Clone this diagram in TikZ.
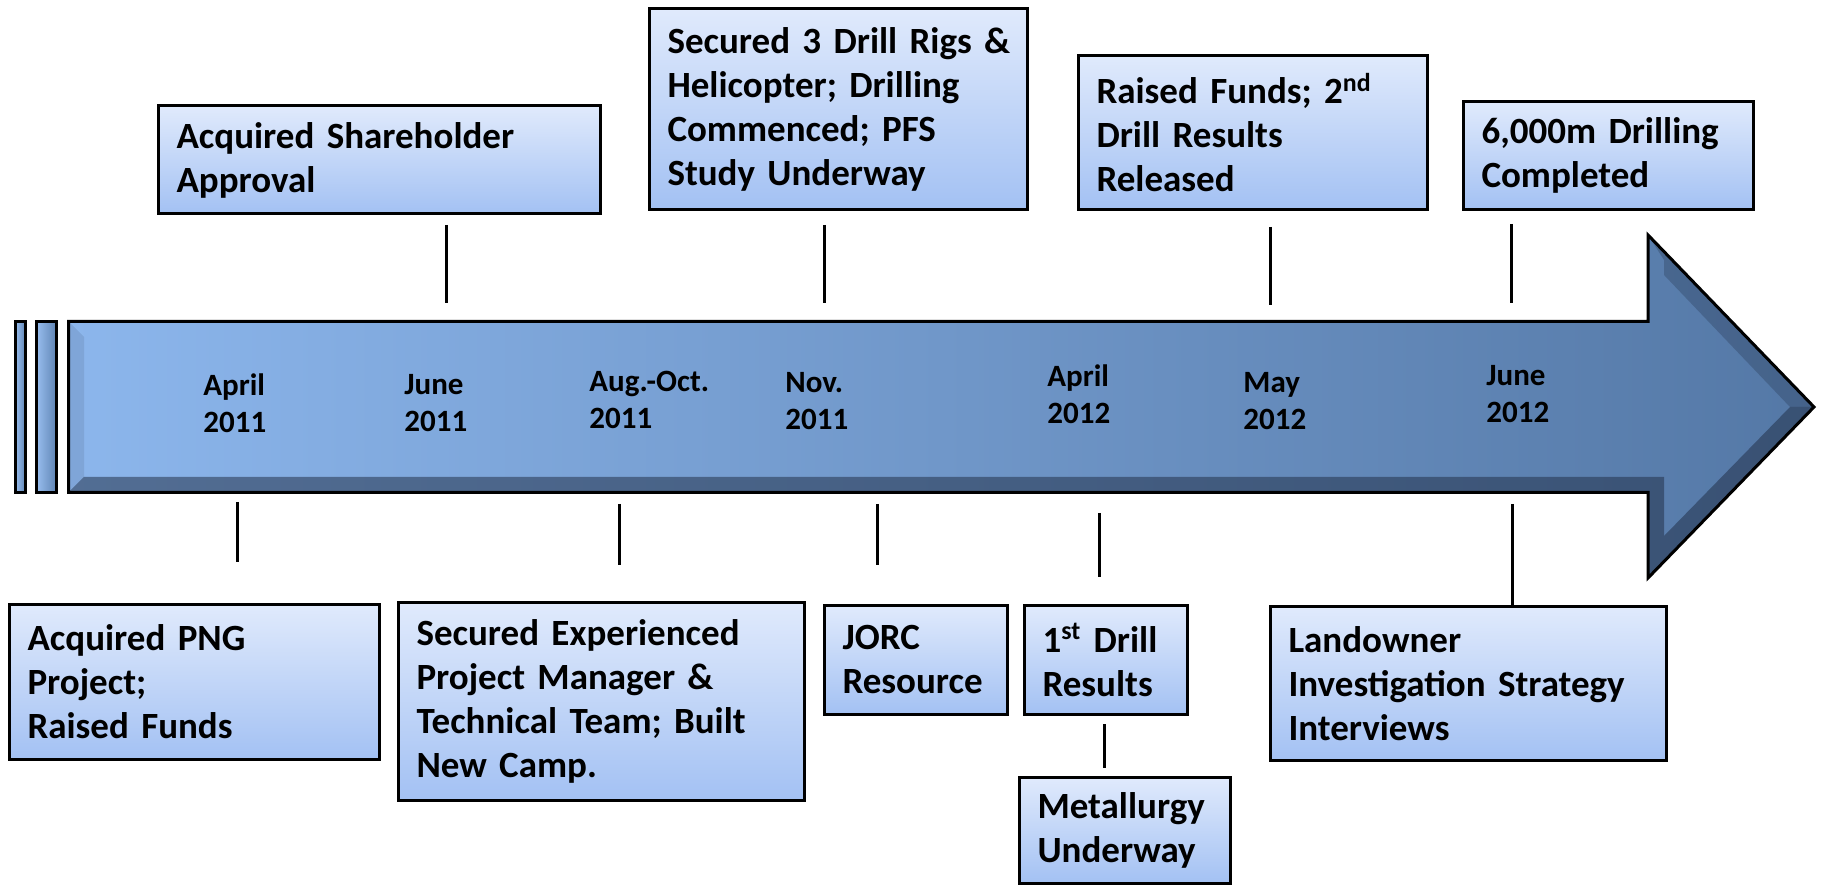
\documentclass[tikz,border=0pt]{standalone}
\usepackage{fontspec}
\newfontfamily\carl{Carlito}
\definecolor{boxTop}{RGB}{224,234,252}
\definecolor{boxBot}{RGB}{163,193,243}
\definecolor{arrL}{RGB}{140,182,236}
\definecolor{arrR}{RGB}{84,120,166}
\definecolor{bevel}{RGB}{35,50,75}
\newcommand\evfont{\carl\bfseries\fontsize{18.5}{22}\selectfont}
\newcommand\dtfont{\carl\bfseries\fontsize{15.5}{18.5}\selectfont}
\tikzset{
  evbox/.style={draw=black, line width=1.5pt, top color=boxTop, bottom color=boxBot,
    align=left, inner xsep=9pt, inner ysep=0pt, font=\evfont},
  datelbl/.style={align=left, inner sep=0pt, font=\dtfont, anchor=west},
  tickline/.style={line width=1.5pt},
  arrowline/.style={draw=black, line width=1.5pt, line join=miter},
}
\begin{document}
\begin{tikzpicture}[x=0.5pt,y=-0.5pt]
\useasboundingbox (0,0) rectangle (1825,886);

% --- timeline arrow ---
\shade[left color=arrL, right color=arrR]
  (68.5,321.5) -- (1648,321.5) -- (1648,235) -- (1814,407) -- (1648,578) -- (1648,492.5) -- (68.5,492.5) -- cycle;
% bevels
\fill[bevel, opacity=0.55]
  (68.5,492.5) -- (1648,492.5) -- (1648,578) -- (1814,407) -- (1790,407) -- (1664,536) -- (1664,477) -- (84,477) -- cycle;
\fill[bevel, opacity=0.3]
  (1648,235) -- (1814,407) -- (1790,407) -- (1664,275) -- (1664,260) -- cycle;
\fill[bevel, opacity=0.12]
  (68.5,321.5) -- (84,337) -- (84,477) -- (68.5,492.5) -- cycle;
\draw[arrowline]
  (68.5,321.5) -- (1648,321.5) -- (1648,235) -- (1814,407) -- (1648,578) -- (1648,492.5) -- (68.5,492.5) -- cycle;
% left bars
\shadedraw[arrowline, left color=arrL!90!white, right color=arrR!80!arrL] (15.5,321.5) rectangle (25.5,492.5);
\shadedraw[arrowline, left color=arrL!90!white, right color=arrR!80!arrL] (36.5,321.5) rectangle (56.5,492.5);

% --- date labels ---
\node[datelbl] (dA11) at (203,403.5) {April\\2011};
\node[datelbl] (dJ11) at (404,403.5) {June\\2011};
\node[datelbl] (dAO11) at (589,399.5) {Aug.-Oct.\\2011};
\node[datelbl] (dN11) at (785,401.5) {Nov.\\2011};
\node[datelbl] (dA12) at (1047,394.5) {April\\2012};
\node[datelbl] (dM12) at (1243,401.5) {May\\2012};
\node[datelbl] (dJ12) at (1486,394.5) {June\\2012};

% --- upper event boxes ---
\node[evbox, text width=203pt, minimum height=54pt] (sh) at (379.5,160) {Acquired Shareholder\\Approval};
\node[evbox, text width=171pt, minimum height=100.5pt] (rigs) at (838.5,109) {\mbox{Secured 3 Drill Rigs \&}\\\mbox{Helicopter; Drilling}\\\mbox{Commenced; PFS}\\\mbox{Study Underway}};
\node[evbox, text width=156.5pt, minimum height=77pt] (raised) at (1253,132.5) {\mbox{Raised Funds; 2\textsuperscript{nd}}\\Drill Results\\Released};
\node[evbox, text width=127pt, minimum height=54pt] (dk) at (1608.5,155.5) {\mbox{6,000m Drilling}\\Completed};

% --- lower event boxes ---
\node[evbox, text width=167pt, minimum height=77.5pt] (png) at (194.5,682) {Acquired PNG\\Project;\\Raised Funds};
\node[evbox, text width=185pt, minimum height=99pt] (exp) at (601.5,701.5) {\mbox{Secured Experienced}\\\mbox{Project Manager \&}\\\mbox{Technical Team; Built}\\New Camp.};
\node[evbox, text width=73.5pt, minimum height=54.5pt] (jorc) at (916,660) {JORC\\\mbox{Resource}};
\node[evbox, text width=63.5pt, minimum height=54.5pt] (first) at (1106,660) {\mbox{1\textsuperscript{st} Drill}\\\mbox{Results}};
\node[evbox, text width=87.5pt, minimum height=53pt] (met) at (1125,830.5) {\mbox{Metallurgy}\\\mbox{Underway}};
\node[evbox, text width=180pt, minimum height=77pt] (land) at (1468.5,683.5) {Landowner\\\mbox{Investigation Strategy}\\Interviews};

% --- tick connectors ---
\coordinate (t1a) at (446,225); \coordinate (t1b) at (446,303);
\coordinate (t2a) at (824,225); \coordinate (t2b) at (824,303);
\coordinate (t3a) at (1270,227); \coordinate (t3b) at (1270,305);
\coordinate (t4a) at (1511,224); \coordinate (t4b) at (1511,303);
\draw[tickline] (t1a) -- (t1b);
\draw[tickline] (t2a) -- (t2b);
\draw[tickline] (t3a) -- (t3b);
\draw[tickline] (t4a) -- (t4b);
\coordinate (b1a) at (237,502); \coordinate (b1b) at (237,562);
\coordinate (b2a) at (619,504); \coordinate (b2b) at (619,565);
\coordinate (b3a) at (877,504); \coordinate (b3b) at (877,565);
\coordinate (b4a) at (1099,513); \coordinate (b4b) at (1099,577);
\coordinate (b5a) at (1512,504);
\draw[tickline] (b1a) -- (b1b);
\draw[tickline] (b2a) -- (b2b);
\draw[tickline] (b3a) -- (b3b);
\draw[tickline] (b4a) -- (b4b);
\draw[tickline] (b5a) -- (b5a |- land.north);
\coordinate (m1) at (1104,724); \coordinate (m2) at (1104,768);
\draw[tickline] (m1) -- (m2);
\end{tikzpicture}
\end{document}
